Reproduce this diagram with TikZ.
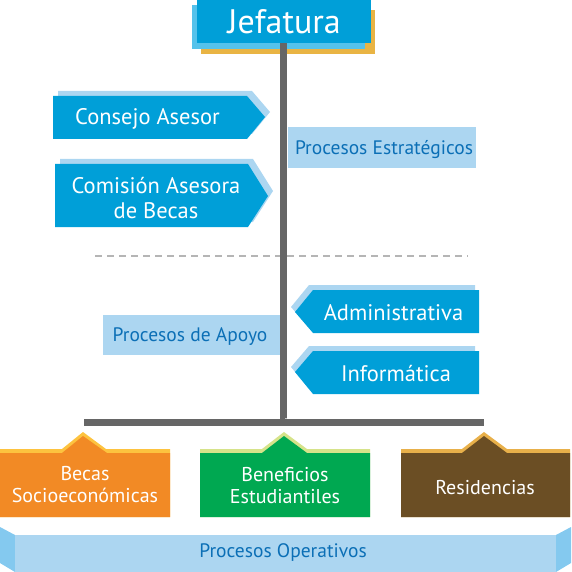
\documentclass[tikz,border=0pt]{standalone}
\usepackage{fontspec}
\setmainfont{PT Sans}
\definecolor{mblue}{HTML}{009FD8}
\definecolor{sblue}{HTML}{ACD6F1}
\definecolor{jlight}{HTML}{55C2EB}
\definecolor{jyellow}{HTML}{E9B444}
\definecolor{tblue}{HTML}{0B6FB6}
\definecolor{stemgray}{HTML}{666666}
\definecolor{dashgray}{HTML}{B5B5B5}
\definecolor{orangeb}{HTML}{F28A25}
\definecolor{orangesh}{HTML}{FDC33F}
\definecolor{greenb}{HTML}{00A851}
\definecolor{greensh}{HTML}{D6E38A}
\definecolor{brownb}{HTML}{6B4E24}
\definecolor{brownsh}{HTML}{E8B04A}
\definecolor{capblue}{HTML}{84C9EF}
\tikzset{
  wtext/.style={text=white, align=center, inner sep=0pt},
  btext/.style={text=tblue, align=center, inner sep=0pt},
  midfont/.style={font=\fontsize{22.5}{25}\selectfont},
  smallfont/.style={font=\fontsize{19.5}{22}\selectfont},
  botfont/.style={font=\fontsize{20}{22}\selectfont},
}
\begin{document}
\begin{tikzpicture}[x=1pt,y=-1pt]
\useasboundingbox (0,0) rectangle (571,572);

% Jefatura
\fill[jyellow] (201,10) rectangle (375,54);
\fill[jlight] (192,5) rectangle (365,49);
\node[fill=mblue, minimum width=174pt, minimum height=43pt, inner sep=0pt, anchor=north west, text=white, font=\fontsize{34}{38}\selectfont] (jef) at (197,0) {Jefatura};

% dashed separator
\draw[dashgray, line width=2pt, dash pattern=on 7pt off 5pt] (95,256) -- (468,256);

% bar and stem
\node[fill=stemgray, minimum width=400pt, minimum height=7pt, inner sep=0pt] (bar) at (284,422.5) {};
\draw[stemgray, line width=7pt] (jef.south) ++(-0.5,0) |- (bar.north);

% Consejo Asesor
\fill[sblue] (58,91) -- (252,91) -- (270,112) -- (252,134) -- (58,134) -- cycle;
\fill[mblue] (53,96) -- (247,96) -- (265,117) -- (247,139) -- (53,139) -- cycle;
\node[wtext, midfont] (consejo) at (147.5,119) {Consejo Asesor};

% Comision
\fill[sblue] (60,159) -- (253,159) -- (273,191) -- (253,222) -- (60,222) -- cycle;
\fill[mblue] (55,164) -- (248,164) -- (268,196) -- (248,227) -- (55,227) -- cycle;
\node[wtext, midfont] (comision) at (156,198) {Comisión Asesora\\de Becas};

% Procesos Estrategicos
\node[fill=sblue, minimum width=188pt, minimum height=41pt, inner sep=0pt, anchor=north west] (pe) at (288,127) {};
\node[btext, smallfont] (pet) at (384,150) {Procesos Estratégicos};

% Administrativa
\fill[sblue] (291,307) -- (309,285) -- (475,285) -- (475,328) -- (309,328) -- cycle;
\fill[mblue] (295,312) -- (313,290) -- (479,290) -- (479,333) -- (313,333) -- cycle;
\node[wtext, midfont] (admin) at (393.5,313) {Administrativa};

% Informatica
\fill[sblue] (291,367) -- (309,346) -- (475,346) -- (475,389) -- (309,389) -- cycle;
\fill[mblue] (295,372) -- (313,351) -- (479,351) -- (479,394) -- (313,394) -- cycle;
\node[wtext, midfont] (info) at (396,374) {Informática};

% Procesos de Apoyo
\node[fill=sblue, minimum width=177pt, minimum height=40pt, inner sep=0pt, anchor=north west] (pa) at (103,315) {};
\node[btext, smallfont] (pat) at (190,337) {Procesos de Apoyo};

% Bottom boxes
\fill[orangesh] (0,517) -- (0,449) -- (62,449) -- (83,432) -- (106,449) -- (170,449) -- (170,517) -- cycle;
\fill[orangeb] (0,517) -- (0,453) -- (62,453) -- (83,436) -- (107,453) -- (170,453) -- (170,517) -- cycle;
\node[wtext, botfont] (becas) at (85,485) {Becas\\Socioeconómicas};

\fill[greensh] (200,517) -- (200,449) -- (262,449) -- (284,432) -- (307,449) -- (370,449) -- (370,517) -- cycle;
\fill[greenb] (200,517) -- (200,453) -- (262,453) -- (284,436) -- (307,453) -- (370,453) -- (370,517) -- cycle;
\node[wtext, botfont] (benef) at (285,486) {Beneficios\\Estudiantiles};

\fill[brownsh] (401,517) -- (401,449) -- (462,449) -- (484,432) -- (507,449) -- (570,449) -- (570,517) -- cycle;
\fill[brownb] (401,517) -- (401,453) -- (462,453) -- (484,436) -- (507,453) -- (570,453) -- (570,517) -- cycle;
\node[wtext, botfont] (resid) at (485,488) {Residencias};

% Procesos Operativos
\fill[capblue] (0,527) -- (15,535) -- (15,572) -- (0,563) -- cycle;
\fill[capblue] (571,527) -- (556,535) -- (556,572) -- (571,563) -- cycle;
\node[fill=sblue, minimum width=541pt, minimum height=37pt, inner sep=0pt, anchor=north west] (po) at (15,535) {};
\node[btext, smallfont] (pot) at (283,553) {Procesos Operativos};
\end{tikzpicture}
\end{document}
